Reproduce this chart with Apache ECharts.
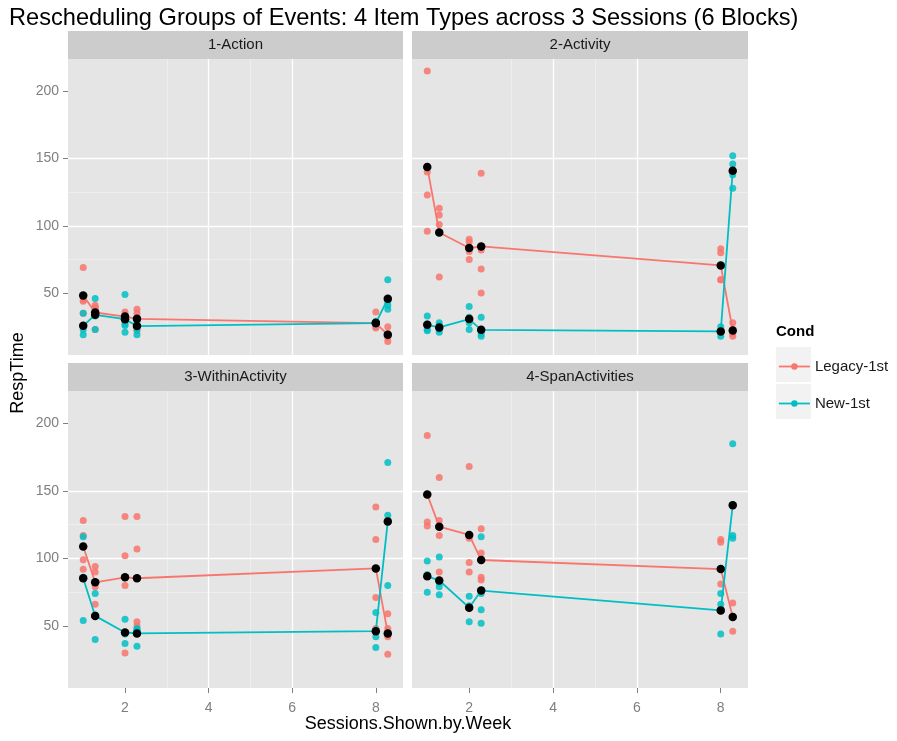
<!DOCTYPE html>
<html>
<head>
<meta charset="utf-8">
<title>Rescheduling Groups of Events</title>
<script src="https://cdn.jsdelivr.net/npm/echarts@6/dist/echarts.min.js"></script>
<style>
  html, body { margin: 0; padding: 0; background: #fff; }
  #chart { width: 897px; height: 741px; }
</style>
</head>
<body>
<div id="chart"></div>
<script>
// x: sessions shown by week (two blocks per session)
const sessions = [1, 1.286, 2, 2.286, 8, 8.286];
const panels = ["1-Action", "2-Activity", "3-WithinActivity", "4-SpanActivities"];
const conds = ["Legacy-1st", "New-1st"];
const xTicks = [2, 4, 6, 8];
const xMinor = [1, 3, 5, 7];
const yTicks = [50, 100, 150, 200];
const yMinor = [25, 75, 125, 175];

// raw RespTime per block (one inner array per session block)
const actionLegacy = [[69, 45, 44, 35], [41, 39, 39, 23], [36, 34, 32, 29], [38, 35, 29, 22], [36, 26, 25, 24], [25, 20, 17, 14]];
const actionNew = [[35, 26, 23, 19], [46, 34, 33, 23], [49, 27, 26, 21], [31, 29, 23, 19], [29, 28, 27, 27], [60, 44, 41, 38]];
const activityLegacy = [[215, 140, 123, 96], [113, 108, 101, 62], [90, 88, 81, 75], [139, 82, 68, 50], [83, 80, 60, 60], [28, 23, 20, 18]];
const activityNew = [[33, 27, 23, 22], [28, 26, 23, 21], [40, 32, 28, 23], [32, 22, 20, 18], [25, 22, 21, 18], [152, 146, 138, 128]];
const withinLegacy = [[128, 117, 99, 92], [94, 90, 79, 66], [131, 102, 80, 30], [131, 107, 53, 50], [138, 114, 71, 48], [59, 48, 42, 29]];
const withinNew = [[116, 86, 85, 54], [74, 58, 58, 40], [55, 45, 44, 37], [48, 47, 47, 35], [60, 47, 42, 34], [171, 132, 127, 80]];
const spanLegacy = [[191, 147, 127, 124], [160, 128, 117, 90], [168, 115, 97, 90], [122, 104, 86, 84], [114, 112, 81, 61], [67, 57, 57, 46]];
const spanNew = [[98, 88, 87, 75], [101, 82, 79, 73], [72, 65, 64, 53], [116, 74, 62, 52], [74, 66, 62, 44], [185, 140, 117, 115]];

// block means (black dots joined by the lines)
const actionLegacyMean = [48.2, 35.6, 32.6, 30.9, 27.7, 19];
const actionNewMean = [25.7, 33.9, 30.6, 25.5, 27.7, 45.8];
const activityLegacyMean = [143.7, 95.1, 83.5, 84.7, 70.6, 22.2];
const activityNewMean = [26.4, 24.5, 30.7, 22.7, 21.5, 141];
const withinLegacyMean = [108.8, 82.3, 86, 85.3, 92.6, 44.4];
const withinNewMean = [85.3, 57.4, 45.1, 44.4, 46.1, 127.4];
const spanLegacyMean = [147.3, 123.5, 117.4, 98.8, 92.1, 56.6];
const spanNewMean = [86.8, 83.6, 63.5, 76.2, 61.5, 139.4];

const points = [
  [actionLegacy, actionNew],
  [activityLegacy, activityNew],
  [withinLegacy, withinNew],
  [spanLegacy, spanNew]
];
const means = [
  [actionLegacyMean, actionNewMean],
  [activityLegacyMean, activityNewMean],
  [withinLegacyMean, withinNewMean],
  [spanLegacyMean, spanNewMean]
];

const colors = ["#F8766D", "#00BFC4"];
const xMin = 0.636, xMax = 8.65;
const yMin = 4, yMax = 224;
const font = "Liberation Sans, Arial, Helvetica, sans-serif";

const grids = [
  { left: 68, top: 59, width: 335, height: 296 },
  { left: 412, top: 59, width: 336, height: 296 },
  { left: 68, top: 391, width: 335, height: 297 },
  { left: 412, top: 391, width: 336, height: 297 }
];
const stripH = 28;

const xAxes = [];
const yAxes = [];
const series = [];
const graphics = [];

grids.forEach(function(g, i) {
  const bottomRow = i >= 2;
  const leftCol = i % 2 === 0;
  // minor grid lines (drawn first, underneath)
  xAxes.push({
    type: "value", gridIndex: i, min: xMin, max: xMax, position: "top", z: 0,
    axisLine: { show: false },
    axisTick: { show: false, customValues: xMinor },
    axisLabel: { show: false },
    splitLine: { show: true, showMinLine: false, showMaxLine: false, lineStyle: { color: "#F2F2F2", width: 0.7 } }
  });
  xAxes.push({
    type: "value", gridIndex: i, min: xMin, max: xMax, position: "bottom", z: 1,
    axisLine: { show: false },
    axisTick: { show: bottomRow, customValues: xTicks, length: 5, lineStyle: { color: "#7F7F7F" } },
    axisLabel: { show: bottomRow, customValues: xTicks, color: "#7F7F7F", fontSize: 14, margin: 13, fontFamily: font },
    splitLine: { show: true, showMinLine: false, showMaxLine: false, lineStyle: { color: "#FFFFFF", width: 1.3 } }
  });
  yAxes.push({
    type: "value", gridIndex: i, min: yMin, max: yMax, position: "right", z: 0,
    axisLine: { show: false },
    axisTick: { show: false, customValues: yMinor },
    axisLabel: { show: false },
    splitLine: { show: true, showMinLine: false, showMaxLine: false, lineStyle: { color: "#F2F2F2", width: 0.7 } }
  });
  yAxes.push({
    type: "value", gridIndex: i, min: yMin, max: yMax, position: "left", z: 1,
    axisLine: { show: false },
    axisTick: { show: leftCol, customValues: yTicks, length: 5, lineStyle: { color: "#7F7F7F" } },
    axisLabel: { show: leftCol, customValues: yTicks, color: "#7F7F7F", fontSize: 14, margin: 9, fontFamily: font },
    splitLine: { show: true, showMinLine: false, showMaxLine: false, lineStyle: { color: "#FFFFFF", width: 1.3 } }
  });

  const xi = 2 * i + 1, yi = 2 * i + 1;
  // mean lines first so the legend picks up the line icon
  conds.forEach(function(c, k) {
    series.push({
      type: "line", name: c, xAxisIndex: xi, yAxisIndex: yi, z: 3, silent: true,
      showSymbol: false, symbol: "circle", animation: false,
      lineStyle: { color: colors[k], width: 1.8 },
      itemStyle: { color: colors[k] },
      data: sessions.map(function(x, j) { return [x, means[i][k][j]]; })
    });
  });
  conds.forEach(function(c, k) {
    const data = [];
    sessions.forEach(function(x, j) {
      points[i][k][j].forEach(function(v) { data.push([x, v]); });
    });
    series.push({
      type: "scatter", name: c, xAxisIndex: xi, yAxisIndex: yi, z: 2, silent: true,
      symbolSize: 7, animation: false,
      itemStyle: { color: colors[k], opacity: 0.85 },
      data: data
    });
  });
  conds.forEach(function(c, k) {
    series.push({
      type: "scatter", name: c + " mean", xAxisIndex: xi, yAxisIndex: yi, z: 4, silent: true,
      symbolSize: 8.5, animation: false,
      itemStyle: { color: "#000000", opacity: 1 },
      data: sessions.map(function(x, j) { return [x, means[i][k][j]]; })
    });
  });

  // facet strip
  graphics.push({
    type: "rect", silent: true,
    shape: { x: g.left, y: g.top - stripH, width: g.width, height: stripH },
    style: { fill: "#CCCCCC" }
  });
  graphics.push({
    type: "text", silent: true,
    x: g.left + g.width / 2, y: g.top - stripH / 2,
    style: { text: panels[i], font: "15px " + font, fill: "#1A1A1A", align: "center", verticalAlign: "middle" }
  });
});

// legend key backgrounds and title
graphics.push({ type: "rect", silent: true, shape: { x: 776, y: 347, width: 35, height: 35 }, style: { fill: "#F2F2F2" } });
graphics.push({ type: "rect", silent: true, shape: { x: 776, y: 384, width: 35, height: 35 }, style: { fill: "#F2F2F2" } });
graphics.push({
  type: "text", silent: true, x: 776, y: 332,
  style: { text: "Cond", font: "bold 15px " + font, fill: "#000000", verticalAlign: "middle" }
});
// axis titles
graphics.push({
  type: "text", silent: true, x: 18, y: 373, rotation: Math.PI / 2,
  style: { text: "RespTime", font: "18px " + font, fill: "#000000", align: "center", verticalAlign: "middle" }
});
graphics.push({
  type: "text", silent: true, x: 408, y: 724,
  style: { text: "Sessions.Shown.by.Week", font: "18px " + font, fill: "#000000", align: "center", verticalAlign: "middle" }
});

const chart = echarts.init(document.getElementById("chart"));
chart.setOption({
  backgroundColor: "#FFFFFF",
  animation: false,
  textStyle: { fontFamily: font },
  title: {
    text: "Rescheduling Groups of Events: 4 Item Types across 3 Sessions (6 Blocks)",
    left: 9, top: 6, padding: 0,
    textStyle: { fontSize: 23.6, fontWeight: "normal", color: "#000000", fontFamily: font }
  },
  legend: {
    orient: "vertical", left: 778, top: 359, padding: 0,
    itemWidth: 31, itemHeight: 8, itemGap: 22,
    selectedMode: false,
    textStyle: { fontSize: 15, color: "#1A1A1A", fontFamily: font },
    data: conds.map(function(c, k) {
      return { name: c, itemStyle: { color: colors[k] }, lineStyle: { color: colors[k], width: 1.8 } };
    })
  },
  grid: grids.map(function(g) {
    return { left: g.left, top: g.top, width: g.width, height: g.height, show: true, backgroundColor: "#E5E5E5", borderWidth: 0, containLabel: false };
  }),
  xAxis: xAxes,
  yAxis: yAxes,
  series: series,
  graphic: graphics
});
</script>
</body>
</html>
